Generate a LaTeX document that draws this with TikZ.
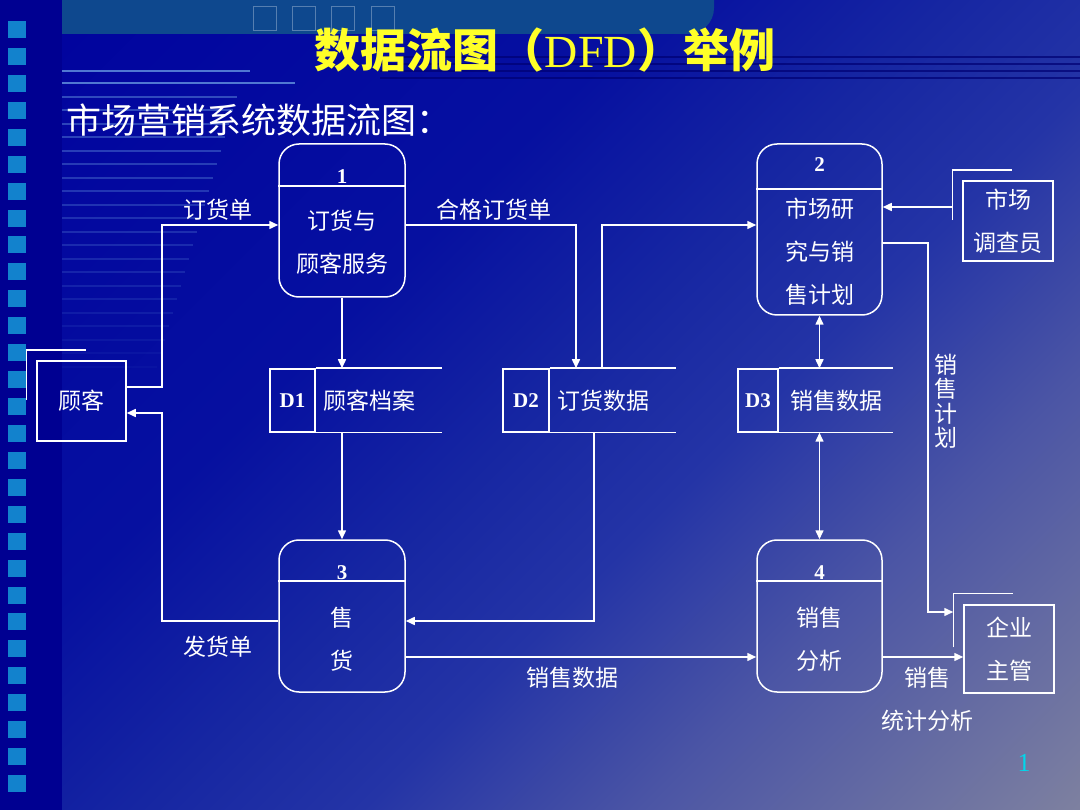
\documentclass[tikz,border=0pt]{standalone}
\usepackage{fontspec}
\setmainfont{Liberation Serif}
\newfontfamily\cjk{Noto Sans CJK SC}
\usetikzlibrary{arrows.meta}
\definecolor{bg0}{RGB}{0,2,158}
\definecolor{bg1}{RGB}{6,16,160}
\definecolor{bg2}{RGB}{22,38,162}
\definecolor{bg3}{RGB}{36,52,166}
\definecolor{bg4}{RGB}{75,85,165}
\definecolor{bg5}{RGB}{125,128,160}
\definecolor{strip}{RGB}{0,0,145}
\definecolor{sq}{RGB}{18,130,205}
\definecolor{band}{RGB}{14,72,142}
\definecolor{deco}{RGB}{80,120,210}
\definecolor{titleyel}{RGB}{255,255,40}
\definecolor{pagenum}{RGB}{0,215,235}
\pgfdeclareverticalshading{slidebg}{100bp}{color(0bp)=(bg5); color(14.6bp)=(bg5); color(31bp)=(bg4); color(41.5bp)=(bg3); color(50bp)=(bg2); color(60.6bp)=(bg1); color(85.4bp)=(bg0); color(100bp)=(bg0)}
\tikzset{
  proc/.style={draw=white, line width=1.5pt, rounded corners=20pt, minimum width=126pt, inner sep=0pt},
  ext/.style={draw=white, line width=1.5pt, minimum width=90pt, inner sep=0pt, text=white, align=center, font=\cjk\fontsize{23}{43}\selectfont},
  sid/.style={draw=white, line width=1.5pt, minimum height=63pt, inner sep=0pt, text=white, font=\bfseries\fontsize{21}{21}\selectfont},
  lbl/.style={text=white, inner sep=0pt, align=center, font=\cjk\fontsize{23}{43}\selectfont},
  num/.style={text=white, inner sep=0pt, font=\bfseries\fontsize{21}{21}\selectfont},
  link/.style={white, line width=1.5pt},
  flow/.style={link, -{Triangle[length=9pt,width=8pt]}},
  flow2/.style={link, {Triangle[length=9pt,width=8pt]}-{Triangle[length=9pt,width=8pt]}},
}
\begin{document}
\begin{tikzpicture}[x=1pt,y=-1pt]
\useasboundingbox (0,0) rectangle (1080,810);
% background
\shade[shading=slidebg, shading angle=45] (0,0) rectangle (1080,810);
\fill[strip] (0,0) rectangle (62,810);
\foreach \i in {0,...,28} {
        \fill[sq] (8,21+26.93*\i) rectangle ++(18,17);
}
\fill[band, rounded corners=26pt] (62,-40) rectangle (714,34);
\fill[band] (62,0) rectangle (120,34);
\foreach \x in {253,292,331,371} {
        \draw[band!70!white, line width=0.8pt] (\x,6) rectangle ++(23,24);
}
\foreach \y/\l in {71/188,83/233} {
        \draw[deco, line width=2.5pt] (62,\y) -- ++(\l,0);
}
\foreach \i [evaluate=\i as \op using 0.6-0.027*\i, evaluate=\i as \yy using 97+13.5*\i, evaluate=\i as \ll using 175-4*\i] in {0,...,20} {
        \draw[deco, line width=2pt, opacity=\op] (62,\yy) -- ++(\ll,0);
}
\foreach \y in {57,64,71,78} {
        \draw[black!55!blue, line width=2.5pt, opacity=0.7] (380,\y) -- (1080,\y);
}

% titles
\node[text=titleyel, font=\cjk\bfseries\fontsize{46}{46}\selectfont] (title) at (545,50) {数据流图（{\rmfamily\mdseries DFD}）举例};
\node[text=white, anchor=west, inner sep=0pt, font=\cjk\fontsize{35}{35}\selectfont] (subtitle) at (66,120) {市场营销系统数据流图：};

% processes
\node[proc, minimum height=153pt] (P1) at (342,220.5) {};
\node[proc, minimum height=171pt, minimum width=125pt] (P2) at (819.5,229.5) {};
\node[proc, minimum height=152pt] (P3) at (342,616) {};
\node[proc, minimum height=152pt, minimum width=125pt] (P4) at (819.5,616) {};
\node[num] (P1n) at (342,177) {1};
\node[num] (P2n) at (819.5,165) {2};
\node[num] (P3n) at (342,573) {3};
\node[num] (P4n) at (819.5,573) {4};
\draw[link] (P1.west |- 0,186) -- (P1.east |- 0,186);
\draw[link] (P2.west |- 0,189) -- (P2.east |- 0,189);
\draw[link] (P3.west |- 0,581) -- (P3.east |- 0,581);
\draw[link] (P4.west |- 0,581) -- (P4.east |- 0,581);
\node[lbl] (P1t) at (342,242.5) {订货与\\顾客服务};
\node[lbl] (P2t) at (819.5,252) {市场研\\究与销\\售计划};
\node[lbl] (P3t) at (342,639) {售\\货};
\node[lbl] (P4t) at (819.5,639) {销售\\分析};

% external entities
\node[ext, minimum width=89pt, minimum height=80pt] (E1) at (81.5,401) {顾客};
\node[ext, minimum height=80pt] (E2) at (1008,221) {市场\\调查员};
\node[ext, minimum height=88pt] (E3) at (1009,649) {企业\\主管};
\draw[link] ([shift={(-10pt,-40pt)}]E1.north west) |- ([shift={(50pt,10pt)}]E1.north west);
\draw[link] ([shift={(-10pt,-40pt)}]E2.north west) |- ([shift={(50pt,10pt)}]E2.north west);
\draw[link] ([shift={(-10pt,-43pt)}]E3.north west) |- ([shift={(50pt,11pt)}]E3.north west);

% data stores
\node[sid, minimum width=45pt] (D1) at (292.5,400.5) {D1};
\node[sid, minimum width=46pt] (D2) at (526,400.5) {D2};
\node[sid, minimum width=40pt] (D3) at (758,400.5) {D3};
\draw[link] (D1.north east) -- ++(126,0) (D1.south east) -- ++(126,0);
\draw[link] (D2.north east) -- ++(126,0) (D2.south east) -- ++(126,0);
\draw[link] (D3.north east) -- ++(114,0) (D3.south east) -- ++(114,0);
\node[lbl, anchor=west] (D1t) at ([xshift=8pt]D1.east) {顾客档案};
\node[lbl, anchor=west] (D2t) at ([xshift=8pt]D2.east) {订货数据};
\node[lbl, anchor=west] (D3t) at ([xshift=12pt]D3.east) {销售数据};

% data flows
\draw[flow] (E1.east |- 0,387) -- (162,387) -- (162,225) -- (P1.west |- 0,225);
\draw[flow] (P3.west |- 0,621) -- (162,621) -- (162,413) -- (E1.east |- 0,413);
\draw[flow] (P1.east |- 0,225) -| (D2.north -| 576,0);
\draw[flow] (D2.north -| 602,0) |- (P2.west |- 0,225);
\draw[flow] ([xshift=-10pt]E2.west |- 0,207) -- (P2.east |- 0,207);
\draw[flow] (P2.east |- 0,243) -- (928,243) -- (928,612) -- ([xshift=-10pt]E3.west |- 0,612);
\draw[flow2] (P2.south) -- (P2.south |- D3.north);
\draw[flow2] (P4.north |- D3.south) -- (P4.north);
\draw[flow] (P1.south) -- (P1.south |- D1.north);
\draw[flow] (P3.north |- D1.south) -- (P3.north);
\draw[flow] (D2.south -| 594,0) |- (P3.east |- 0,621);
\draw[flow] (P3.east |- 0,657) -- (P4.west |- 0,657);
\draw[flow] (P4.east |- 0,657) -- (E3.west |- 0,657);

% flow labels
\node[lbl] (f1) at (218,210) {订货单};
\node[lbl] (f2) at (494,210) {合格订货单};
\node[lbl] (f3) at (218,647) {发货单};
\node[lbl] (f4) at (572,678) {销售数据};
\node[lbl] (f5) at (927,678) {销售};
\node[lbl] (f6) at (927,721) {统计分析};
\node[lbl, font=\cjk\fontsize{23}{24.5}\selectfont] (f7) at (946,401) {销\\售\\计\\划};

\node[text=pagenum, font=\fontsize{26}{26}\selectfont] (page) at (1024,763) {1};
\end{tikzpicture}
\end{document}
